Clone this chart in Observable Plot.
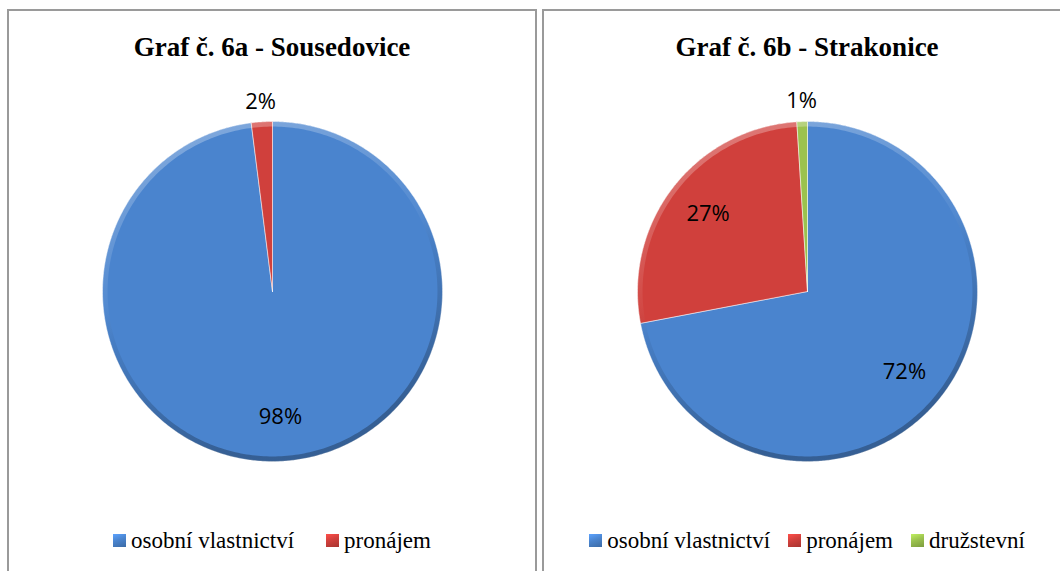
<!DOCTYPE html>
<html>
<head>
<meta charset="utf-8">
<script src="https://cdn.jsdelivr.net/npm/d3@7"></script>
<script src="https://cdn.jsdelivr.net/npm/@observablehq/plot@0.6"></script>
<style>
  body { margin: 0; background: #fff; width: 1060px; height: 571px; overflow: hidden; position: relative; }
  .box { position: absolute; top: 9px; width: 530px; height: 620px; border: 2px solid #9a9a9a; box-sizing: border-box; background: #fff; }
  .title { position: absolute; left: 0; right: 0; top: 21px; text-align: center; font-family: "Times New Roman", "Liberation Serif", "DejaVu Serif", serif; font-weight: bold; font-size: 27px; line-height: 30px; color: #000; }
  .plot { position: absolute; left: 0; top: 60px; }
  .legend { position: absolute; left: 0; right: 0; top: 515px; text-align: center; color: #000; white-space: nowrap; }
  .item { display: inline-block; font-family: "Times New Roman", "Liberation Serif", "DejaVu Serif", serif; font-size: 23px; line-height: 30px; font-weight: normal; }
  .sw { display: inline-block; width: 13px; height: 13px; margin-right: 5px; vertical-align: 1px; box-sizing: border-box; }
</style>
</head>
<body>
<script>
// ---- data ----
const categories = ["osobní vlastnictví", "pronájem", "družstevní"];
const colors = ["#4A84CE", "#D0403C", "#9BC24E"];
const titles = ["Graf č. 6a - Sousedovice", "Graf č. 6b - Strakonice"];
const sousedoviceCategories = ["osobní vlastnictví", "pronájem"];
const sousedoviceValues = [98, 2];
const strakoniceCategories = ["osobní vlastnictví", "pronájem", "družstevní"];
const strakoniceValues = [72, 27, 1];

const charts = [
  {id: "a", title: titles[0], cats: sousedoviceCategories, vals: sousedoviceValues, left: 7, gap: 32},
  {id: "b", title: titles[1], cats: strakoniceCategories, vals: strakoniceValues, left: 542, gap: 18}
];

const W = 526, H = 440, R = 170;

function wedges(cats, vals) {
  const total = d3.sum(vals);
  const pts = [], labels = [];
  let cum = 0;
  cats.forEach((c, i) => {
    const a0 = cum / total * 2 * Math.PI;
    cum += vals[i];
    const a1 = cum / total * 2 * Math.PI;
    pts.push({category: c, x: 0, y: 0});
    const n = Math.max(2, Math.ceil((a1 - a0) / (Math.PI / 360)));
    for (let k = 0; k <= n; k++) {
      const a = a0 + (a1 - a0) * k / n;
      pts.push({category: c, x: Math.sin(a), y: Math.cos(a)});
    }
    pts.push({category: c, x: 0, y: 0});
    const am = (a0 + a1) / 2;
    const r = vals[i] / total < 0.05 ? 1.12 : 0.74;
    labels.push({category: c, x: Math.sin(am) * r, y: Math.cos(am) * r, text: Math.round(vals[i] / total * 100) + "%"});
  });
  return {pts, labels};
}

charts.forEach(ch => {
  const box = document.createElement("div");
  box.className = "box";
  box.style.left = ch.left + "px";
  document.body.appendChild(box);

  const t = document.createElement("div");
  t.className = "title";
  t.textContent = ch.title;
  box.appendChild(t);

  const {pts, labels} = wedges(ch.cats, ch.vals);
  const circle = d3.range(0, 361, 1).map(d => ({x: 0.985 * Math.sin(d * Math.PI / 180), y: 0.985 * Math.cos(d * Math.PI / 180)}));

  const svg = Plot.plot({
    width: W, height: H,
    margin: 0,
    style: {overflow: "visible"},
    x: {domain: [-W / 2 / R, W / 2 / R], axis: null},
    y: {domain: [-H / 2 / R, H / 2 / R], axis: null},
    color: {domain: categories, range: colors},
    marks: [
      Plot.line(pts, {x: "x", y: "y", z: "category", fill: "category", stroke: "#ffffff", strokeOpacity: 0.5, strokeWidth: 1}),
      Plot.line(circle, {x: "x", y: "y", stroke: `url(#rim${ch.id})`, strokeWidth: 5}),
      Plot.text(labels, {x: "x", y: "y", text: "text", fontSize: 22, fontFamily: "Open Sans", fill: "#000"})
    ]
  });
  const ns = "http://www.w3.org/2000/svg";
  const defs = document.createElementNS(ns, "defs");
  const lg0 = document.createElementNS(ns, "linearGradient");
  lg0.setAttribute("id", "rim" + ch.id);
  lg0.setAttribute("x1", "0"); lg0.setAttribute("y1", "0");
  lg0.setAttribute("x2", "0.3"); lg0.setAttribute("y2", "1");
  [["0", "#ffffff", 0.35], ["0.5", "#ffffff", 0.05], ["0.6", "#000000", 0.05], ["1", "#000000", 0.28]].forEach(([o, c, op]) => {
    const s = document.createElementNS(ns, "stop");
    s.setAttribute("offset", o); s.setAttribute("stop-color", c); s.setAttribute("stop-opacity", op);
    lg0.appendChild(s);
  });
  defs.appendChild(lg0);
  svg.insertBefore(defs, svg.firstChild);
  svg.classList.add("plot");
  box.appendChild(svg);

  const lg = document.createElement("div");
  lg.className = "legend";
  ch.cats.forEach((c, i) => {
    const it = document.createElement("span");
    it.className = "item";
    if (i > 0) it.style.marginLeft = ch.gap + "px";
    const sw = document.createElement("span");
    sw.className = "sw";
    const col = colors[categories.indexOf(c)];
    sw.style.background = `linear-gradient(160deg, ${d3.color(col).brighter(0.6)}, ${col} 45%, ${d3.color(col).darker(0.6)})`;
    it.appendChild(sw);
    it.appendChild(document.createTextNode(c));
    lg.appendChild(it);
  });
  box.appendChild(lg);
});
</script>
</body>
</html>
